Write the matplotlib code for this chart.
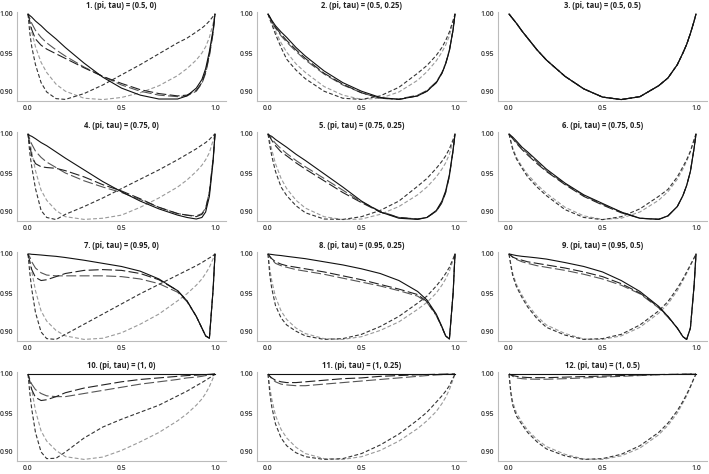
import matplotlib
matplotlib.use("Agg")
import matplotlib.pyplot as plt

# common x grid
X = [0, .01, .02, .04, .07, .1, .15, .2, .3, .4, .5, .6, .7, .8, .85, .9, .93, .95, .97, .99, 1]

titles = ["1. (pi, tau) = (0.5, 0)", "2. (pi, tau) = (0.5, 0.25)", "3. (pi, tau) = (0.5, 0.5)",
          "4. (pi, tau) = (0.75, 0)", "5. (pi, tau) = (0.75, 0.25)", "6. (pi, tau) = (0.75, 0.5)",
          "7. (pi, tau) = (0.95, 0)", "8. (pi, tau) = (0.95, 0.25)", "9. (pi, tau) = (0.95, 0.5)",
          "10. (pi, tau) = (1, 0)", "11. (pi, tau) = (1, 0.25)", "12. (pi, tau) = (1, 0.5)"]
xticks = [0.0, 0.5, 1.0]
xtick_labels = ["0.0", "0.5", "1.0"]
yticks = [0.90, 0.95, 1.00]
ytick_labels = ["0.90", "0.95", "1.00"]

# panel 1
p1_solid = [1.000, 0.998, 0.996, 0.991, 0.985, 0.978, 0.968, 0.957, 0.937, 0.919, 0.905, 0.896, 0.891, 0.891, 0.895, 0.905, 0.916, 0.930, 0.952, 0.980, 1.000]
p1_long_a = [1.000, 0.990, 0.980, 0.968, 0.960, 0.955, 0.949, 0.943, 0.931, 0.920, 0.911, 0.903, 0.898, 0.895, 0.896, 0.902, 0.912, 0.926, 0.948, 0.977, 1.000]
p1_long_b = [1.000, 0.994, 0.988, 0.979, 0.970, 0.963, 0.954, 0.946, 0.932, 0.920, 0.909, 0.901, 0.896, 0.894, 0.895, 0.901, 0.911, 0.924, 0.946, 0.976, 1.000]
p1_short_dark = [1.000, 0.975, 0.958, 0.935, 0.912, 0.900, 0.8915, 0.8905, 0.898, 0.909, 0.922, 0.935, 0.949, 0.963, 0.969, 0.977, 0.982, 0.986, 0.991, 0.997, 1.000]
p1_short_light = [1.000, 0.988, 0.977, 0.958, 0.938, 0.925, 0.910, 0.901, 0.892, 0.8903, 0.893, 0.899, 0.908, 0.921, 0.930, 0.941, 0.950, 0.958, 0.970, 0.988, 1.000]

# panel 2
p2_solid = [1.000, 0.996, 0.992, 0.985, 0.977, 0.970, 0.957, 0.946, 0.927, 0.912, 0.901, 0.893, 0.8905, 0.895, 0.901, 0.912, 0.924, 0.936, 0.953, 0.980, 1.000]
p2_long_a = [1.000, 0.996, 0.991, 0.983, 0.974, 0.966, 0.954, 0.943, 0.924, 0.910, 0.899, 0.892, 0.8905, 0.895, 0.901, 0.912, 0.924, 0.936, 0.953, 0.980, 1.000]
p2_long_b = [1.000, 0.995, 0.990, 0.982, 0.972, 0.964, 0.952, 0.941, 0.923, 0.909, 0.899, 0.892, 0.891, 0.896, 0.902, 0.913, 0.925, 0.937, 0.954, 0.980, 1.000]
p2_short_dark = [1.000, 0.993, 0.987, 0.974, 0.957, 0.942, 0.928, 0.917, 0.901, 0.892, 0.8905, 0.895, 0.906, 0.924, 0.934, 0.947, 0.957, 0.966, 0.977, 0.992, 1.000]
p2_short_light = [1.000, 0.994, 0.989, 0.978, 0.963, 0.951, 0.936, 0.925, 0.907, 0.896, 0.8905, 0.892, 0.900, 0.915, 0.926, 0.940, 0.951, 0.960, 0.972, 0.990, 1.000]

# panel 3 (all five series coincide)
p3_solid = [1.000, 0.997, 0.994, 0.988, 0.978, 0.969, 0.954, 0.941, 0.920, 0.904, 0.8935, 0.8903, 0.894, 0.908, 0.918, 0.935, 0.950, 0.961, 0.975, 0.991, 1.000]
p3_long_a = p3_solid
p3_long_b = p3_solid
p3_short_dark = p3_solid
p3_short_light = p3_solid

# panel 4
p4_solid = [1.000, 0.998, 0.997, 0.994, 0.989, 0.985, 0.977, 0.969, 0.954, 0.939, 0.926, 0.914, 0.904, 0.896, 0.893, 0.891, 0.893, 0.900, 0.920, 0.965, 1.000]
p4_long_a = [1.000, 0.985, 0.972, 0.962, 0.958, 0.957, 0.956, 0.953, 0.945, 0.935, 0.927, 0.917, 0.906, 0.898, 0.896, 0.894, 0.897, 0.904, 0.925, 0.968, 1.000]
p4_long_b = [1.000, 0.993, 0.987, 0.978, 0.970, 0.964, 0.957, 0.950, 0.940, 0.932, 0.925, 0.916, 0.906, 0.898, 0.896, 0.895, 0.898, 0.905, 0.926, 0.968, 1.000]
p4_short_dark = [1.000, 0.975, 0.958, 0.930, 0.902, 0.893, 0.8903, 0.897, 0.907, 0.918, 0.930, 0.942, 0.954, 0.967, 0.974, 0.981, 0.986, 0.989, 0.993, 0.998, 1.000]
p4_short_light = [1.000, 0.990, 0.977, 0.953, 0.928, 0.915, 0.902, 0.894, 0.8905, 0.892, 0.896, 0.906, 0.918, 0.932, 0.941, 0.952, 0.960, 0.967, 0.976, 0.992, 1.000]

# panel 5
p5_solid = [1.000, 0.998, 0.997, 0.993, 0.988, 0.983, 0.974, 0.966, 0.949, 0.932, 0.914, 0.900, 0.892, 0.8905, 0.893, 0.902, 0.914, 0.927, 0.948, 0.980, 1.000]
p5_long_a = [1.000, 0.996, 0.992, 0.985, 0.977, 0.972, 0.963, 0.955, 0.940, 0.925, 0.912, 0.900, 0.893, 0.891, 0.893, 0.901, 0.912, 0.925, 0.946, 0.979, 1.000]
p5_long_b = [1.000, 0.997, 0.994, 0.988, 0.981, 0.975, 0.966, 0.958, 0.943, 0.928, 0.913, 0.901, 0.893, 0.891, 0.893, 0.901, 0.912, 0.925, 0.946, 0.979, 1.000]
p5_short_dark = [1.000, 0.985, 0.972, 0.952, 0.932, 0.921, 0.908, 0.899, 0.891, 0.8905, 0.894, 0.902, 0.914, 0.933, 0.943, 0.956, 0.965, 0.972, 0.981, 0.993, 1.000]
p5_short_light = [1.000, 0.990, 0.980, 0.962, 0.943, 0.930, 0.915, 0.905, 0.894, 0.8903, 0.891, 0.897, 0.907, 0.922, 0.932, 0.945, 0.955, 0.963, 0.974, 0.991, 1.000]

# panel 6
p6_solid = [1.000, 0.998, 0.996, 0.991, 0.983, 0.977, 0.966, 0.955, 0.937, 0.922, 0.911, 0.900, 0.892, 0.8905, 0.895, 0.907, 0.921, 0.934, 0.952, 0.982, 1.000]
p6_long_a = [1.000, 0.997, 0.994, 0.988, 0.980, 0.973, 0.962, 0.952, 0.935, 0.920, 0.909, 0.899, 0.892, 0.8905, 0.895, 0.907, 0.921, 0.934, 0.952, 0.982, 1.000]
p6_long_b = [1.000, 0.997, 0.995, 0.989, 0.981, 0.975, 0.964, 0.953, 0.936, 0.921, 0.910, 0.900, 0.892, 0.891, 0.895, 0.907, 0.921, 0.934, 0.952, 0.982, 1.000]
p6_short_dark = [1.000, 0.990, 0.980, 0.968, 0.956, 0.945, 0.932, 0.921, 0.903, 0.893, 0.8902, 0.894, 0.904, 0.920, 0.929, 0.945, 0.958, 0.967, 0.978, 0.993, 1.000]
p6_short_light = [1.000, 0.991, 0.982, 0.970, 0.958, 0.948, 0.935, 0.924, 0.906, 0.895, 0.8905, 0.892, 0.900, 0.915, 0.926, 0.942, 0.955, 0.965, 0.977, 0.993, 1.000]

# panel 7
p7_solid = [1.000, 1.000, 0.9996, 0.9993, 0.9987, 0.998, 0.997, 0.9955, 0.992, 0.988, 0.984, 0.978, 0.968, 0.953, 0.940, 0.920, 0.905, 0.895, 0.892, 0.955, 1.000]
p7_long_a = [1.000, 0.990, 0.980, 0.970, 0.966, 0.967, 0.971, 0.975, 0.979, 0.980, 0.979, 0.975, 0.967, 0.953, 0.940, 0.920, 0.905, 0.895, 0.892, 0.955, 1.000]
p7_long_b = [1.000, 0.996, 0.990, 0.982, 0.976, 0.973, 0.972, 0.972, 0.972, 0.972, 0.971, 0.968, 0.962, 0.951, 0.939, 0.920, 0.905, 0.895, 0.892, 0.955, 1.000]
p7_short_dark = [1.000, 0.975, 0.955, 0.925, 0.900, 0.8915, 0.8905, 0.897, 0.910, 0.923, 0.936, 0.949, 0.961, 0.973, 0.979, 0.985, 0.989, 0.992, 0.995, 0.998, 1.000]
p7_short_light = [1.000, 0.990, 0.978, 0.953, 0.927, 0.914, 0.902, 0.895, 0.8905, 0.892, 0.899, 0.910, 0.923, 0.940, 0.949, 0.960, 0.968, 0.975, 0.983, 0.994, 1.000]

# panel 8
p8_solid = [1.000, 0.9997, 0.9994, 0.9987, 0.998, 0.997, 0.9955, 0.994, 0.990, 0.986, 0.981, 0.975, 0.966, 0.952, 0.941, 0.923, 0.907, 0.895, 0.891, 0.950, 1.000]
p8_long_a = [1.000, 0.997, 0.994, 0.990, 0.987, 0.985, 0.983, 0.981, 0.977, 0.972, 0.967, 0.961, 0.955, 0.948, 0.939, 0.922, 0.906, 0.895, 0.891, 0.950, 1.000]
p8_long_b = [1.000, 0.996, 0.993, 0.988, 0.985, 0.983, 0.980, 0.978, 0.974, 0.969, 0.964, 0.959, 0.953, 0.946, 0.938, 0.921, 0.906, 0.895, 0.891, 0.950, 1.000]
p8_short_dark = [1.000, 0.972, 0.956, 0.934, 0.918, 0.909, 0.901, 0.895, 0.8905, 0.8915, 0.897, 0.907, 0.920, 0.937, 0.946, 0.959, 0.968, 0.975, 0.983, 0.994, 1.000]
p8_short_light = [1.000, 0.980, 0.966, 0.945, 0.927, 0.916, 0.905, 0.898, 0.8915, 0.8905, 0.894, 0.902, 0.913, 0.929, 0.938, 0.950, 0.960, 0.968, 0.978, 0.992, 1.000]

# panel 9
p9_solid = [1.000, 0.9996, 0.999, 0.998, 0.997, 0.9963, 0.995, 0.9935, 0.989, 0.984, 0.977, 0.966, 0.952, 0.933, 0.920, 0.905, 0.894, 0.8905, 0.905, 0.960, 1.000]
p9_long_a = [1.000, 0.998, 0.996, 0.994, 0.992, 0.990, 0.988, 0.986, 0.982, 0.977, 0.971, 0.962, 0.950, 0.932, 0.920, 0.905, 0.894, 0.8905, 0.905, 0.960, 1.000]
p9_long_b = [1.000, 0.998, 0.996, 0.993, 0.990, 0.988, 0.985, 0.983, 0.979, 0.974, 0.968, 0.960, 0.949, 0.931, 0.919, 0.905, 0.894, 0.8905, 0.905, 0.960, 1.000]
p9_short_dark = [1.000, 0.985, 0.972, 0.958, 0.944, 0.932, 0.917, 0.906, 0.896, 0.8905, 0.8915, 0.897, 0.909, 0.927, 0.939, 0.956, 0.968, 0.977, 0.986, 0.995, 1.000]
p9_short_light = [1.000, 0.987, 0.975, 0.961, 0.947, 0.935, 0.920, 0.909, 0.898, 0.891, 0.8905, 0.895, 0.906, 0.924, 0.936, 0.953, 0.966, 0.975, 0.985, 0.995, 1.000]

# panel 10
p10_solid = [1.000, 1.000, 1.000, 1.000, 1.000, 1.000, 1.000, 1.000, 1.000, 1.000, 1.000, 1.000, 1.000, 1.000, 1.000, 1.000, 1.000, 1.000, 1.000, 1.000, 1.000]
p10_long_a = [1.000, 0.990, 0.980, 0.970, 0.966, 0.967, 0.971, 0.976, 0.982, 0.986, 0.990, 0.993, 0.995, 0.997, 0.998, 0.9985, 0.999, 0.9993, 0.9996, 0.9999, 1.000]
p10_long_b = [1.000, 0.993, 0.987, 0.980, 0.975, 0.972, 0.971, 0.971, 0.975, 0.979, 0.983, 0.987, 0.990, 0.993, 0.995, 0.996, 0.997, 0.998, 0.999, 0.9997, 1.000]
p10_short_dark = [1.000, 0.975, 0.955, 0.925, 0.900, 0.8915, 0.892, 0.900, 0.918, 0.932, 0.942, 0.951, 0.960, 0.972, 0.978, 0.985, 0.989, 0.992, 0.995, 0.998, 1.000]
p10_short_light = [1.000, 0.990, 0.980, 0.953, 0.927, 0.914, 0.902, 0.894, 0.8905, 0.8935, 0.902, 0.913, 0.925, 0.940, 0.949, 0.960, 0.968, 0.975, 0.984, 0.995, 1.000]

# panel 11
p11_solid = [1.000, 1.000, 1.000, 1.000, 1.000, 1.000, 1.000, 1.000, 1.000, 1.000, 1.000, 1.000, 1.000, 1.000, 1.000, 1.000, 1.000, 1.000, 1.000, 1.000, 1.000]
p11_long_a = [1.000, 0.997, 0.995, 0.992, 0.990, 0.989, 0.989, 0.990, 0.992, 0.994, 0.995, 0.997, 0.998, 0.999, 0.9993, 0.9996, 0.9998, 0.9999, 1.000, 1.000, 1.000]
p11_long_b = [1.000, 0.997, 0.994, 0.990, 0.987, 0.986, 0.985, 0.985, 0.987, 0.989, 0.991, 0.993, 0.995, 0.997, 0.998, 0.9988, 0.9992, 0.9995, 0.9997, 0.9999, 1.000]
p11_short_dark = [1.000, 0.975, 0.958, 0.936, 0.918, 0.908, 0.899, 0.894, 0.8905, 0.8915, 0.898, 0.909, 0.923, 0.941, 0.951, 0.964, 0.972, 0.978, 0.985, 0.995, 1.000]
p11_short_light = [1.000, 0.982, 0.968, 0.947, 0.929, 0.918, 0.906, 0.898, 0.8915, 0.8905, 0.894, 0.902, 0.914, 0.930, 0.940, 0.952, 0.962, 0.970, 0.980, 0.993, 1.000]

# panel 12
p12_solid = [1.000, 1.000, 1.000, 1.000, 1.000, 1.000, 1.000, 1.000, 1.000, 1.000, 1.000, 1.000, 1.000, 1.000, 1.000, 1.000, 1.000, 1.000, 1.000, 1.000, 1.000]
p12_long_a = [1.000, 0.999, 0.998, 0.997, 0.996, 0.9955, 0.9953, 0.9953, 0.996, 0.9967, 0.9973, 0.998, 0.9987, 0.9993, 0.9995, 0.9997, 0.9998, 0.9999, 1.000, 1.000, 1.000]
p12_long_b = [1.000, 0.999, 0.997, 0.995, 0.994, 0.9935, 0.9933, 0.9933, 0.994, 0.995, 0.996, 0.997, 0.998, 0.999, 0.9993, 0.9995, 0.9997, 0.9998, 0.9999, 1.000, 1.000]
p12_short_dark = [1.000, 0.975, 0.960, 0.946, 0.935, 0.925, 0.913, 0.904, 0.895, 0.8905, 0.8915, 0.897, 0.908, 0.925, 0.937, 0.953, 0.965, 0.974, 0.984, 0.995, 1.000]
p12_short_light = [1.000, 0.978, 0.964, 0.950, 0.938, 0.928, 0.916, 0.907, 0.897, 0.891, 0.8905, 0.895, 0.905, 0.922, 0.934, 0.950, 0.963, 0.972, 0.983, 0.995, 1.000]

panels = [
    (p1_solid, p1_long_a, p1_long_b, p1_short_dark, p1_short_light),
    (p2_solid, p2_long_a, p2_long_b, p2_short_dark, p2_short_light),
    (p3_solid, p3_long_a, p3_long_b, p3_short_dark, p3_short_light),
    (p4_solid, p4_long_a, p4_long_b, p4_short_dark, p4_short_light),
    (p5_solid, p5_long_a, p5_long_b, p5_short_dark, p5_short_light),
    (p6_solid, p6_long_a, p6_long_b, p6_short_dark, p6_short_light),
    (p7_solid, p7_long_a, p7_long_b, p7_short_dark, p7_short_light),
    (p8_solid, p8_long_a, p8_long_b, p8_short_dark, p8_short_light),
    (p9_solid, p9_long_a, p9_long_b, p9_short_dark, p9_short_light),
    (p10_solid, p10_long_a, p10_long_b, p10_short_dark, p10_short_light),
    (p11_solid, p11_long_a, p11_long_b, p11_short_dark, p11_short_light),
    (p12_solid, p12_long_a, p12_long_b, p12_short_dark, p12_short_light),
]

W, H = 709, 474
fig = plt.figure(figsize=(W / 100, H / 100), dpi=100)
plt.rcParams['font.family'] = ['Open Sans', 'DejaVu Sans']

col_x0 = [28, 268, 509]      # pixel of x=0
row_y1 = [14, 134, 254, 374]  # pixel of y=1.00
px_per_x = 187.0
px_per_y = 780.0
xlim = (-0.06, 1.06)
ylim = (0.8885, 1.002)

styles = [
    dict(color="#111111", lw=0.8, ls="-", zorder=6),
    dict(color="#222222", lw=0.8, ls=(0, (9, 3)), zorder=5),
    dict(color="#555555", lw=0.8, ls=(4, (9, 3)), zorder=4),
    dict(color="#333333", lw=0.8, ls=(0, (3.5, 2)), zorder=3),
    dict(color="#9a9a9a", lw=0.8, ls=(0, (3.5, 2)), zorder=2),
]

for i, (title, series) in enumerate(zip(titles, panels)):
    r, c = divmod(i, 3)
    left_px = col_x0[c] + xlim[0] * px_per_x
    w_px = (xlim[1] - xlim[0]) * px_per_x
    top_px = row_y1[r] - (ylim[1] - 1.0) * px_per_y
    h_px = (ylim[1] - ylim[0]) * px_per_y
    ax = fig.add_axes([left_px / W, 1 - (top_px + h_px) / H, w_px / W, h_px / H])
    for ys, st in zip(series, styles):
        ax.plot(X, ys, color=st["color"], lw=st["lw"], linestyle=st["ls"], zorder=st["zorder"])
    ax.set_xlim(*xlim)
    ax.set_ylim(*ylim)
    ax.set_xticks(xticks)
    ax.set_xticklabels(xtick_labels)
    ax.set_yticks(yticks)
    ax.set_yticklabels(ytick_labels)
    ax.tick_params(axis="y", length=0, labelsize=5.0, pad=2.5, colors="#333333")
    ax.tick_params(axis="x", length=0, labelsize=5.0, pad=3, colors="#333333")
    for lab in ax.get_xticklabels() + ax.get_yticklabels():
        lab.set_fontweight("semibold")
    for s in ["top", "right"]:
        ax.spines[s].set_visible(False)
    for s in ["left", "bottom"]:
        ax.spines[s].set_color("#bbbbbb")
        ax.spines[s].set_linewidth(0.8)
    ax.set_title(title, fontsize=5.5, fontweight="bold", pad=3, color="#222222")

fig.savefig("out.png", dpi=100)
